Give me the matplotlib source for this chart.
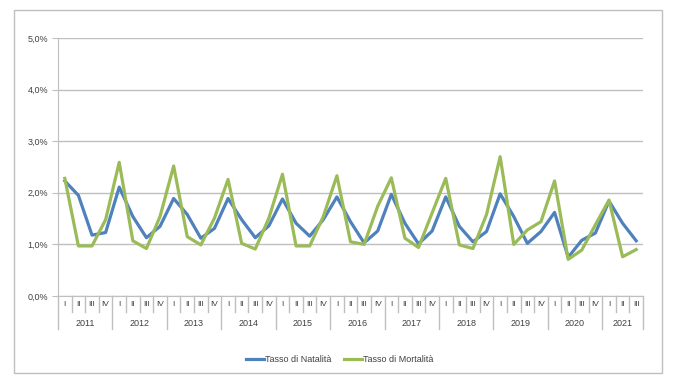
import matplotlib
matplotlib.use("Agg")
import matplotlib.pyplot as plt
from matplotlib.patches import Rectangle
import matplotlib.transforms as mtransforms
from matplotlib.ticker import FuncFormatter

years = ["2011", "2012", "2013", "2014", "2015", "2016", "2017", "2018", "2019", "2020", "2021"]
quarters = ["I", "II", "III", "IV"]

natalita = [2.23, 1.95, 1.18, 1.23,
            2.11, 1.54, 1.13, 1.35,
            1.89, 1.58, 1.12, 1.31,
            1.89, 1.48, 1.13, 1.36,
            1.88, 1.41, 1.16, 1.48,
            1.92, 1.44, 1.03, 1.26,
            1.97, 1.41, 1.01, 1.26,
            1.92, 1.35, 1.05, 1.25,
            1.98, 1.54, 1.02, 1.25,
            1.62, 0.75, 1.08, 1.22,
            1.84, 1.41, 1.07]
mortalita = [2.28, 0.97, 0.97, 1.48,
             2.59, 1.07, 0.92, 1.54,
             2.52, 1.15, 0.99, 1.51,
             2.26, 1.02, 0.91, 1.51,
             2.36, 0.97, 0.97, 1.54,
             2.33, 1.05, 1.00, 1.74,
             2.29, 1.12, 0.94, 1.61,
             2.28, 0.99, 0.92, 1.58,
             2.70, 1.00, 1.28, 1.44,
             2.23, 0.71, 0.89, 1.38,
             1.86, 0.76, 0.90]

W, H = 680, 390
fig = plt.figure(figsize=(W / 100, H / 100), dpi=100)
plt.rcParams['font.family'] = ['Liberation Sans', 'DejaVu Sans']

# outer frame
fig.patches.append(Rectangle((14 / W, 1 - 373 / H), (662 - 14) / W, (373 - 10) / H,
                             transform=fig.transFigure, fill=False,
                             edgecolor="#BFBFBF", linewidth=1.0))

left, right, top, bottom = 58, 643, 38, 296
ax = fig.add_axes([left / W, 1 - bottom / H, (right - left) / W, (bottom - top) / H])

n = len(natalita)
x = [i + 0.5 for i in range(n)]
ax.plot(x, natalita, color="#4F81BD", lw=2.3, label="Tasso di Natalità", solid_joinstyle="round")
ax.plot(x, mortalita, color="#9BBB59", lw=2.3, label="Tasso di Mortalità", solid_joinstyle="round")

ax.set_xlim(0, n)
ax.set_ylim(0, 5)
ax.set_yticks([0, 1, 2, 3, 4, 5])
ax.yaxis.set_major_formatter(FuncFormatter(lambda v, p: f"{v:.1f}%".replace(".", ",")))
ax.grid(axis="y", color="#BFBFBF", lw=1.0)
ax.set_axisbelow(True)
for s in ["top", "right"]:
    ax.spines[s].set_visible(False)
ax.spines["left"].set_color("#BFBFBF")
ax.spines["bottom"].set_color("#BFBFBF")
ax.tick_params(axis="y", length=4, color="#BFBFBF", labelsize=6.5, labelcolor="#404040", pad=3)
ax.set_xticks([])

trans = mtransforms.blended_transform_factory(ax.transData, ax.transAxes)
ph = bottom - top
q_low = -(312 - bottom) / ph
y_low = -(329 - bottom) / ph
q_lab = -(305 - bottom) / ph
y_lab = -(323 - bottom) / ph
for i in range(n + 1):
    is_year = (i % 4 == 0) or i == n
    ax.plot([i, i], [0, y_low if is_year else q_low], transform=trans, color="#BFBFBF",
            lw=1.0, clip_on=False)
for i in range(n):
    ax.text(i + 0.5, q_lab, quarters[i % 4], transform=trans, ha="center", va="center",
            fontsize=6, color="#404040")
for k, yr in enumerate(years):
    start = 4 * k
    end = min(4 * k + 4, n)
    ax.text((start + end) / 2, y_lab, yr, transform=trans, ha="center", va="center",
            fontsize=6.5, color="#404040")

fig.legend(loc="center", bbox_to_anchor=(0.5, 1 - 360 / H), ncol=2, frameon=False,
           fontsize=6.5, handlelength=2.0, handletextpad=0.1, columnspacing=1.4,
           labelcolor="#404040")

fig.savefig("out.png", dpi=100)
